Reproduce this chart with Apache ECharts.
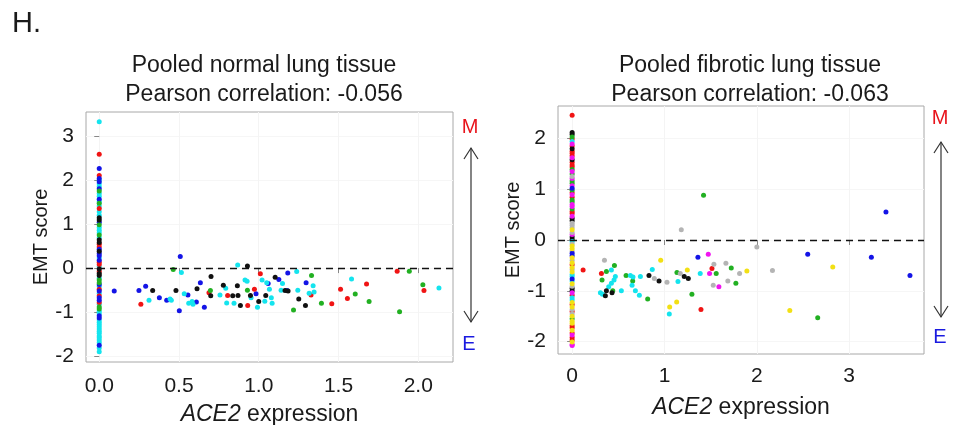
<!DOCTYPE html>
<html><head><meta charset="utf-8">
<script src="https://cdn.jsdelivr.net/npm/echarts@6/dist/echarts.min.js"></script>
<style>html,body{margin:0;padding:0;background:#fff}#c{width:959px;height:425px}</style>
</head><body><div id="c"></div>
<script>
// ---------- Tick labels ----------
const normalXTicks = [0, 0.5, 1.0, 1.5, 2.0];
const normalYTicks = [-2, -1, 0, 1, 2, 3];
const fibroticXTicks = [0, 1, 2, 3];
const fibroticYTicks = [-2, -1, 0, 1, 2];

// ---------- Pooled normal lung tissue: cells with ACE2 = 0 (EMT scores) ----------
const normalZeroCyan = [3.32,2.00,1.91,1.85,1.69,1.63,1.51,1.41,1.28,1.20,0.92,0.86,0.80,0.69,0.23,0.03,-0.23,-0.42,-0.57,-0.82,-0.98,-1.03,-1.18,-1.23,-1.28,-1.33,-1.38,-1.43,-1.48,-1.54,-1.58,-1.63,-1.69,-1.81,-1.90];
const normalZeroRed = [2.58,2.10,1.35,0.54,0.48,0.13,0.08,-0.08,-0.48,-0.63,-0.78];
const normalZeroBlue = [2.26,2.03,1.96,1.80,1.56,1.04,0.43,0.33,0.28,0.18,-0.37,-0.52,-0.67,-0.73,-1.08,-1.13,-1.75];
const normalZeroGreen = [1.75,1.47,0.98,0.75,-0.27,-0.33,-0.88,-0.93];
const normalZeroBlack = [1.14,1.09,0.64,0.58,0.38,-0.02,-0.12,-0.17];

// ---------- Pooled normal lung tissue: ACE2 > 0 [ACE2, EMT] ----------
const normalBlue = [[0.094,-0.52],[0.249,-0.51],[0.291,-0.41],[0.377,-0.67],[0.423,-0.73],[0.502,-0.97],[0.508,0.26],[0.556,-0.61],[0.609,-0.77],[0.634,-0.33],[0.659,-0.89],[0.983,-0.58],[1.059,-0.35],[1.126,-0.26],[1.178,-0.51],[1.182,-0.11],[1.297,-0.33]];
const normalRed = [[0.261,-0.82],[0.688,-0.56],[0.805,-0.62],[0.931,-0.85],[0.973,-0.48],[1.010,-0.13],[1.328,-0.61],[1.458,-0.81],[1.513,-0.48],[1.556,-0.69],[1.676,-0.36],[1.868,-0.07],[2.036,-0.51]];
const normalCyan = [[0.312,-0.73],[0.444,-0.70],[0.452,-0.73],[0.515,-0.10],[0.533,-0.58],[0.561,-0.80],[0.582,-0.76],[0.588,-0.82],[0.757,-0.61],[0.793,-0.46],[0.799,-0.79],[0.845,-0.80],[0.868,0.07],[0.914,-0.27],[0.927,-0.30],[0.952,-0.67],[0.992,-0.89],[1.021,-0.27],[1.038,-0.75],[1.050,-0.33],[1.067,-0.48],[1.079,-0.67],[1.084,-0.80],[1.140,-0.50],[1.149,-0.35],[1.238,-0.08],[1.245,-0.50],[1.316,-0.57],[1.341,-0.40],[1.347,-0.54],[1.582,-0.25],[2.130,-0.45]];
const normalGreen = [[0.464,-0.03],[0.697,-0.51],[0.929,-0.50],[1.218,-0.95],[1.331,-0.17],[1.393,-0.80],[1.605,-0.59],[1.692,-0.76],[1.883,-0.99],[1.944,-0.07],[2.029,-0.38]];
const normalBlack = [[0.335,-0.51],[0.481,-0.51],[0.613,-0.47],[0.701,-0.19],[0.699,-0.63],[0.778,-0.39],[0.837,-0.63],[0.866,-0.40],[0.870,-0.62],[0.885,-0.85],[0.929,0.05],[0.948,-0.62],[1.000,-0.76],[1.044,-0.62],[1.103,-0.21],[1.165,-0.51],[1.184,-0.52],[1.251,-0.70],[1.293,-0.85]];

// ---------- Pooled fibrotic lung tissue: cells with ACE2 = 0 (EMT scores) ----------
const fibroticZeroRed = [2.46,1.99,1.85,1.75,1.71,1.66,1.53,1.48,1.44,0.93,0.84,0.56,0.52,-0.49,-1.09,-1.27,-1.41,-1.69,-1.73,-1.83,-1.92,-1.97];
const fibroticZeroBlack = [2.12,2.08,1.80,1.58,0.43,0.38,0.06,0.01,-0.95,-1.00];
const fibroticZeroGreen = [2.03,1.39,1.30,1.16,1.12,0.98,0.79,0.75,0.61,-1.55];
const fibroticZeroCyan = [1.94,-0.03,-0.68,-0.72,-0.81,-1.14,-1.18];
const fibroticZeroMagenta = [1.89,1.62,1.35,1.21,1.07,0.89,0.70,0.66,0.47,0.11,-1.04,-1.87,-2.06,-2.08];
const fibroticZeroGray = [1.25,0.33,0.29,0.24,0.15,-0.08,-0.22,-0.40,-0.58,-0.91,-1.37,-1.46];
const fibroticZeroBlue = [1.02,-0.26,-0.31,-0.77];
const fibroticZeroYellow = [0.20,-0.12,-0.17,-0.35,-0.45,-0.54,-0.63,-0.86,-1.23,-1.32,-1.50,-1.60,-1.64,-1.78,-2.01];

// ---------- Pooled fibrotic lung tissue: ACE2 > 0 [ACE2, EMT] ----------
const fibroticRed = [[0.119,-0.59],[0.317,-0.66],[1.395,-1.37],[1.514,-0.56]];
const fibroticGreen = [[0.324,-0.79],[0.371,-0.62],[0.440,-1.00],[0.458,-0.50],[0.584,-0.70],[0.656,-0.81],[0.818,-1.16],[1.135,-0.64],[1.297,-1.07],[1.423,0.88],[1.560,-0.66],[1.723,-0.55],[1.773,-0.85],[2.659,-1.53]];
const fibroticGray = [[0.350,-0.40],[0.890,-0.76],[1.027,-0.83],[1.171,-0.66],[1.182,0.20],[1.535,-0.48],[1.528,-0.89],[1.665,-0.46],[1.686,-0.81],[1.813,-0.66],[2.000,-0.14],[2.169,-0.60]];
const fibroticCyan = [[0.306,-1.04],[0.328,-1.07],[0.396,-0.92],[0.425,-0.85],[0.425,-0.59],[0.454,-0.79],[0.468,-0.72],[0.533,-1.00],[0.631,-0.70],[0.649,-0.89],[0.659,-0.73],[0.685,-1.00],[0.728,-1.09],[0.739,-0.72],[0.868,-0.58],[1.052,-1.46],[1.146,-0.82],[1.387,-0.66]];
const fibroticBlack = [[0.360,-1.10],[0.371,-1.00],[0.432,-1.04],[0.832,-0.70],[0.941,-0.81],[1.214,-0.72],[1.258,-0.76]];
const fibroticYellow = [[0.959,-0.40],[1.056,-1.32],[1.132,-1.22],[1.247,-0.59],[1.892,-0.61],[2.357,-1.39],[2.822,-0.53]];
const fibroticBlue = [[1.362,-0.34],[2.551,-0.28],[3.240,-0.34],[3.398,0.55],[3.658,-0.70]];
const fibroticMagenta = [[1.474,-0.28],[1.488,-0.66],[1.589,-0.92]];

// ---------- styling ----------
const COL = {red:'#f01414', blue:'#1414e6', cyan:'#14e4ee', green:'#22b022', black:'#111111', gray:'#b4b4b4', yellow:'#f2e014', magenta:'#f014f0'};
const FONT = 'Liberation Sans, Arial, sans-serif';
const atZero = ys => ys.map(y => [0, y]);

function sc(data, color, gi) {
  return {type:'scatter', xAxisIndex:gi, yAxisIndex:gi, data:data, symbol:'circle', symbolSize:5,
          itemStyle:{color:color, opacity:1}, silent:true, animation:false};
}

const series = [
  // left panel
  sc(normalBlue, COL.blue, 0), sc(normalRed, COL.red, 0), sc(normalCyan, COL.cyan, 0),
  sc(normalGreen, COL.green, 0), sc(normalBlack, COL.black, 0),
  sc(atZero(normalZeroCyan), COL.cyan, 0), sc(atZero(normalZeroRed), COL.red, 0),
  sc(atZero(normalZeroBlue), COL.blue, 0), sc(atZero(normalZeroGreen), COL.green, 0),
  sc(atZero(normalZeroBlack), COL.black, 0),
  // right panel
  sc(fibroticRed, COL.red, 1), sc(fibroticGreen, COL.green, 1), sc(fibroticGray, COL.gray, 1),
  sc(fibroticCyan, COL.cyan, 1), sc(fibroticBlack, COL.black, 1), sc(fibroticYellow, COL.yellow, 1),
  sc(fibroticBlue, COL.blue, 1), sc(fibroticMagenta, COL.magenta, 1),
  sc(atZero(fibroticZeroRed), COL.red, 1), sc(atZero(fibroticZeroBlack), COL.black, 1),
  sc(atZero(fibroticZeroGreen), COL.green, 1), sc(atZero(fibroticZeroCyan), COL.cyan, 1),
  sc(atZero(fibroticZeroMagenta), COL.magenta, 1), sc(atZero(fibroticZeroGray), COL.gray, 1),
  sc(atZero(fibroticZeroBlue), COL.blue, 1), sc(atZero(fibroticZeroYellow), COL.yellow, 1)
];
// dashed zero lines
[0,1].forEach(gi => {
  series.push({type:'scatter', xAxisIndex:gi, yAxisIndex:gi, data:[], silent:true,
    markLine:{silent:true, symbol:'none', label:{show:false}, animation:false,
      lineStyle:{color:'#111', width:1.4, type:[7,5]}, data:[{yAxis:0}]}});
});

function xAx(gi, min, max, ticks, fmt, nameGap, margin) {
  return {type:'value', gridIndex:gi, min:min, max:max,
    name:'{i|ACE2} expression', nameLocation:'middle', nameGap:nameGap,
    nameTextStyle:{fontFamily:FONT, fontSize:23, color:'#1a1a1a',
      rich:{i:{fontFamily:FONT, fontSize:23, fontStyle:'italic', color:'#1a1a1a'}}},
    axisLine:{show:false},
    axisTick:{show:true, customValues:ticks, length:5, lineStyle:{color:'#888'}},
    axisLabel:{customValues:ticks, formatter:fmt, fontFamily:FONT, fontSize:21, color:'#1a1a1a', margin:margin},
    splitLine:{show:true, lineStyle:{color:'#f4f4f4', width:1}}};
}
function yAx(gi, min, max, ticks, nameGap) {
  return {type:'value', gridIndex:gi, min:min, max:max,
    name:'EMT score', nameLocation:'middle', nameGap:nameGap, nameRotate:90,
    nameTextStyle:{fontFamily:FONT, fontSize:20, color:'#1a1a1a'},
    axisLine:{show:false},
    axisTick:{show:true, customValues:ticks, length:5, lineStyle:{color:'#888'}},
    axisLabel:{customValues:ticks, formatter:v => String(Math.round(v)), fontFamily:FONT, fontSize:21, color:'#1a1a1a', margin:12},
    splitLine:{show:true, lineStyle:{color:'#f6f6f6', width:1}}};
}

function arrow(x, y1, y2) {
  const s = {stroke:'#333', lineWidth:1.2, fill:null};
  return [
    {type:'line', shape:{x1:x, y1:y1, x2:x, y2:y2}, style:s, silent:true},
    {type:'polyline', shape:{points:[[x-7,y1+11],[x,y1],[x+7,y1+11]]}, style:s, silent:true},
    {type:'polyline', shape:{points:[[x-7,y2-11],[x,y2],[x+7,y2-11]]}, style:s, silent:true}
  ];
}
function txt(x, y, t, size, color, align) {
  return {type:'text', x:x, y:y, silent:true,
    style:{text:t, fontFamily:FONT, fontSize:size, fill:color, align:align||'center', verticalAlign:'middle'}};
}

const option = {
  animation:false,
  backgroundColor:'#fff',
  title:[
    {text:'Pooled normal lung tissue\nPearson correlation: -0.056', left:259, top:46, textAlign:'center',
     textStyle:{fontFamily:FONT, fontSize:23, fontWeight:'normal', color:'#1a1a1a', lineHeight:29}},
    {text:'Pooled fibrotic lung tissue\nPearson correlation: -0.063', left:745, top:46, textAlign:'center',
     textStyle:{fontFamily:FONT, fontSize:23, fontWeight:'normal', color:'#1a1a1a', lineHeight:29}}
  ],
  grid:[
    {left:86, top:112, width:367, height:250, show:true, borderColor:'#a8a8a8', borderWidth:1, backgroundColor:'transparent', outerBoundsMode:'none', containLabel:false},
    {left:558, top:106, width:366, height:248, show:true, borderColor:'#a8a8a8', borderWidth:1, backgroundColor:'transparent', outerBoundsMode:'none', containLabel:false}
  ],
  xAxis:[
    xAx(0, -0.083, 2.218, normalXTicks, v => v.toFixed(1), 41, 14),
    xAx(1, -0.153, 3.81, fibroticXTicks, v => String(Math.round(v)), 42, 12)
  ],
  yAxis:[
    yAx(0, -2.13, 3.54, normalYTicks, 34),
    yAx(1, -2.246, 2.64, fibroticYTicks, 24)
  ],
  series:series,
  graphic:[
    txt(12, 24, 'H.', 29, '#1a1a1a', 'left'),
    txt(470, 127, 'M', 20, '#e8141c'),
    txt(469, 344, 'E', 20, '#1a1ae0'),
    ...arrow(471, 148, 322),
    txt(940, 118, 'M', 20, '#e8141c'),
    txt(940, 337, 'E', 20, '#1a1ae0'),
    ...arrow(941, 142, 317)
  ]
};
const chart = echarts.init(document.getElementById('c'), null, {renderer:'canvas'});
chart.setOption(option);
</script></body></html>
